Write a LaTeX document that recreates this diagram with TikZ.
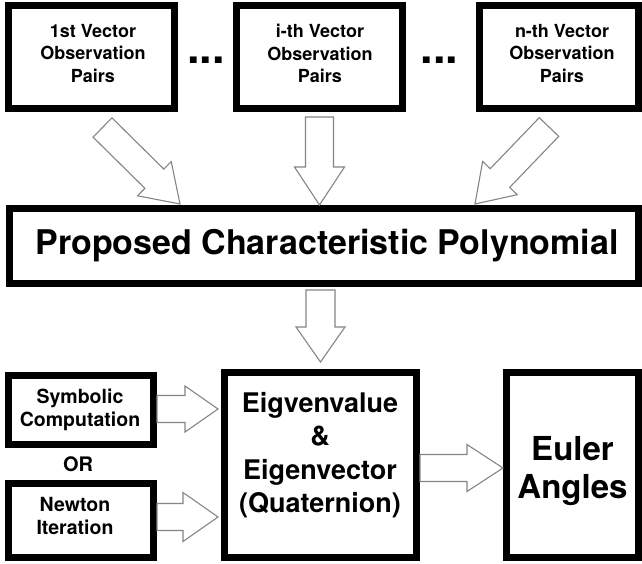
\documentclass[tikz,border=0pt]{standalone}
\usepackage{fontspec}
\setmainfont{TeX Gyre Heros}
\usetikzlibrary{calc}
\tikzset{
  tbox/.style={draw=black, line width=7pt, fill=white, inner sep=0pt},
  ttext/.style={inner sep=0pt, align=center, text=black},
  hollow/.style={draw=black!48, line width=1.1pt, fill=white, line join=miter},
}
\newcommand\fs[2]{\fontsize{#1}{#2}\selectfont\bfseries}
\newcommand\hollowarrow[5]{%
  \coordinate (hb) at ($(#2)!#5!(#1)$);
  \draw[hollow] ($(#1)!#3!90:(#2)$) -- ($(hb)!#3!90:(#2)$) -- ($(hb)!#4!90:(#2)$) -- (#2)
    -- ($(hb)!#4!-90:(#2)$) -- ($(hb)!#3!-90:(#2)$) -- ($(#1)!#3!-90:(#2)$) -- cycle;}
\begin{document}
\begin{tikzpicture}[x=1pt,y=-1pt]
\useasboundingbox (0,0) rectangle (642,564);
\fill[white] (0,0) rectangle (642,564);
% top boxes
\node[tbox, minimum width=166pt, minimum height=103pt] (b1) at (91.5,57) {};
\node[tbox, minimum width=166pt, minimum height=103pt] (b2) at (319.5,57) {};
\node[tbox, minimum width=159pt, minimum height=103pt] (b3) at (559,57) {};
\node[ttext, font=\fs{18}{22.5}] (t1) at (93,53.5) {1st Vector\\Observation\\Pairs};
\node[ttext, font=\fs{18}{22.5}] (t2) at (320,53.5) {i-th Vector\\Observation\\Pairs};
\node[ttext, font=\fs{18}{22.5}] (t3) at (562,53.5) {n-th Vector\\Observation\\Pairs};
\node[inner sep=0pt, anchor=base, font=\fs{45}{50}] (d1) at (206,63.5) {...};
\node[inner sep=0pt, anchor=base, font=\fs{45}{50}] (d2) at (439.5,63.5) {...};
% polynomial
\node[tbox, minimum width=629pt, minimum height=75pt] (poly) at (324,246) {};
\node[ttext, font=\fs{34}{40}] (tpoly) at (327,246) {Proposed Characteristic Polynomial};
% bottom row
\node[tbox, minimum width=145pt, minimum height=69pt] (sym) at (81,410) {};
\node[ttext, font=\fs{19.5}{23}] (tsym) at (80,409.5) {Symbolic\\Computation};
\node[ttext, font=\fs{20}{24}] (or) at (78,464.5) {OR};
\node[tbox, minimum width=145pt, minimum height=74pt] (newt) at (81,520.5) {};
\node[ttext, font=\fs{19.5}{23}] (tnewt) at (75,516) {Newton\\Iteration};
\node[tbox, minimum width=192pt, minimum height=185pt] (eig) at (320.5,465) {};
\node[ttext, font=\fs{27}{33.3}] (teig) at (320,455) {Eigvenvalue\\\&\\Eigenvector\\(Quaternion)};
\node[tbox, minimum width=132pt, minimum height=185pt] (euler) at (572.5,465) {};
\node[ttext, font=\fs{33}{38}] (teuler) at (572.5,471.5) {Euler\\Angles};
% connector end points
\coordinate (a1s) at ($(b1.south)+(11,15.5)$);
\coordinate (a1e) at ($(poly.north)+(-144,-1)$);
\coordinate (a2s) at ($(b2.south)+(0,5)$);
\coordinate (a2e) at (b2.south |- poly.north);
\coordinate (a3s) at ($(b3.south)+(-10,15)$);
\coordinate (a3e) at ($(poly.north)+(151,-1)$);
\coordinate (a4s) at ($(eig.north |- poly.south)+(0,3)$);
\coordinate (a4e) at ($(eig.north)+(0,-7)$);
\coordinate (a5s) at ($(sym.east)+(0,-1)$);
\coordinate (a5e) at ($(eig.west |- a5s)+(-3,0)$);
\coordinate (a6s) at ($(newt.east)+(0,-3.5)$);
\coordinate (a6e) at ($(eig.west |- a6s)+(-3,0)$);
\coordinate (a7s) at ($(eig.east)+(0,3)$);
\coordinate (a7e) at ($(euler.west)+(0,3)$);
% hollow arrows
\hollowarrow{a1s}{a1e}{13.5pt}{24pt}{36pt}
\hollowarrow{a2s}{a2e}{14pt}{25pt}{38pt}
\hollowarrow{a3s}{a3e}{13.5pt}{24pt}{36pt}
\hollowarrow{a4s}{a4e}{14.5pt}{24.5pt}{35pt}
\hollowarrow{a5s}{a5e}{13.5pt}{23pt}{33pt}
\hollowarrow{a6s}{a6e}{13.5pt}{24.5pt}{35pt}
\hollowarrow{a7s}{a7e}{13.5pt}{23.5pt}{36pt}
\end{tikzpicture}
\end{document}
